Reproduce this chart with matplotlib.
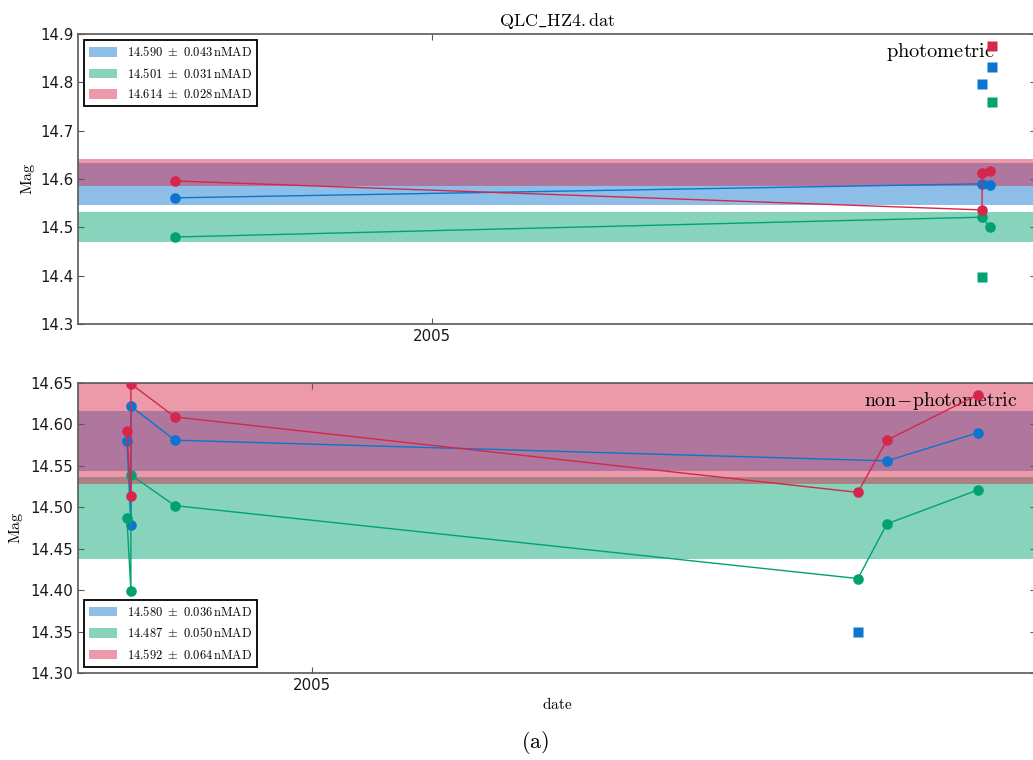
import matplotlib
matplotlib.use("Agg")
import matplotlib.pyplot as plt
from matplotlib.ticker import FixedLocator, FormatStrFormatter

plt.rcParams['mathtext.fontset'] = 'cm'
plt.rcParams['font.family'] = ['DejaVu Sans']

# ---- colours ----
BLUE = '#0b75cf'
GREEN = '#00a271'
RED = '#d7264b'
BAND_ALPHA = 0.47

# ---- top panel (photometric) data ----
top_blue_x = [2004.274, 2006.556, 2006.578]
top_blue_y = [14.561, 14.590, 14.588]
top_green_x = [2004.274, 2006.556, 2006.578]
top_green_y = [14.480, 14.521, 14.501]
top_red_x = [2004.274, 2006.556, 2006.556, 2006.578]
top_red_y = [14.596, 14.536, 14.612, 14.617]
top_blue_sq_x = [2006.556, 2006.584]
top_blue_sq_y = [14.797, 14.832]
top_green_sq_x = [2006.556, 2006.584]
top_green_sq_y = [14.397, 14.759]
top_red_sq_x = [2006.584]
top_red_sq_y = [14.875]
top_means = [14.590, 14.501, 14.614]
top_nmad = [0.043, 0.031, 0.028]

# ---- bottom panel (non-photometric) data ----
bot_blue_x = [2004.209, 2004.226, 2004.226, 2004.414, 2007.456, 2007.845]
bot_blue_y = [14.580, 14.479, 14.622, 14.581, 14.556, 14.590]
bot_green_x = [2004.209, 2004.226, 2004.226, 2004.414, 2007.332, 2007.456, 2007.845]
bot_green_y = [14.487, 14.399, 14.539, 14.502, 14.414, 14.480, 14.521]
bot_red_x = [2004.209, 2004.226, 2004.226, 2004.414, 2007.332, 2007.456, 2007.845]
bot_red_y = [14.592, 14.514, 14.649, 14.609, 14.518, 14.581, 14.636]
bot_blue_sq_x = [2007.332]
bot_blue_sq_y = [14.350]
bot_means = [14.580, 14.487, 14.592]
bot_nmad = [0.036, 0.050, 0.064]

top_yticks = [14.3, 14.4, 14.5, 14.6, 14.7, 14.8, 14.9]
bot_yticks = [14.30, 14.35, 14.40, 14.45, 14.50, 14.55, 14.60, 14.65]
year_ticks = [2005]
year_labels = ['2005']

W, H = 1033, 760
fig = plt.figure(figsize=(W / 100, H / 100), dpi=100)

def axes_px(left, top, right, bottom):
    return fig.add_axes([left / W, 1 - bottom / H, (right - left) / W, (bottom - top) / H])

ax1 = axes_px(78, 34, 1036, 324)
ax2 = axes_px(78, 383, 1036, 673)

colors = [BLUE, GREEN, RED]

def style(ax, yticks, fmt):
    for s in ax.spines.values():
        s.set_color('0.35')
        s.set_linewidth(1.2)
    ax.tick_params(direction='in', length=4, width=0.8, color='0.35',
                   top=True, right=True, labelsize=10.8, labelcolor='0.1')
    ax.yaxis.set_major_locator(FixedLocator(yticks))
    ax.yaxis.set_major_formatter(FormatStrFormatter(fmt))
    ax.set_xticks(year_ticks)
    ax.set_xticklabels(year_labels)

def bands(ax, means, nmads):
    handles = []
    for m, s, c in zip(means, nmads, colors):
        h = ax.axhspan(m - s, m + s, color=c, alpha=BAND_ALPHA, lw=0,
                       label=r'$%.3f\ \pm\ %.3f\,\mathrm{nMAD}$' % (m, s), zorder=1)
        handles.append(h)
    return handles

def series(ax, x, y, c):
    ax.plot(x, y, '-', color=c, lw=1.0, marker='o', ms=6.6, mec=c, mfc=c, zorder=3)

def squares(ax, x, y, c):
    ax.plot(x, y, ls='none', marker='s', ms=7, color=c, mec='none', zorder=3)

# top
h1 = bands(ax1, top_means, top_nmad)
series(ax1, top_blue_x, top_blue_y, BLUE)
series(ax1, top_green_x, top_green_y, GREEN)
series(ax1, top_red_x, top_red_y, RED)
squares(ax1, top_blue_sq_x, top_blue_sq_y, BLUE)
squares(ax1, top_green_sq_x, top_green_sq_y, GREEN)
squares(ax1, top_red_sq_x, top_red_sq_y, RED)
ax1.set_xlim(2004.0, 2004.0 + 2.7 * 958 / 955)
ax1.set_ylim(14.3, 14.9)
style(ax1, top_yticks, '%.1f')
ax1.set_ylabel(r'$\mathrm{Mag}$', fontsize=11.5, labelpad=2)
ax1.set_title(r'$\mathrm{QLC\_HZ4{.}dat}$', fontsize=13, pad=6)
ax1.text(0.957, 0.975, r'$\mathrm{photometric}$', transform=ax1.transAxes,
         ha='right', va='top', fontsize=14.7, zorder=2)
leg1 = ax1.legend(handles=h1, loc='upper left', fontsize=9, fancybox=False,
                  edgecolor='black', framealpha=1, handlelength=2.2,
                  handleheight=0.8, borderaxespad=0.5, labelspacing=0.6)
leg1.get_frame().set_linewidth(1.3)

# bottom
h2 = bands(ax2, bot_means, bot_nmad)
series(ax2, bot_blue_x, bot_blue_y, BLUE)
series(ax2, bot_green_x, bot_green_y, GREEN)
series(ax2, bot_red_x, bot_red_y, RED)
squares(ax2, bot_blue_sq_x, bot_blue_sq_y, BLUE)
ax2.set_xlim(2004.0, 2004.0 + 4.08 * 958 / 955)
ax2.set_ylim(14.30, 14.65)
style(ax2, bot_yticks, '%.2f')
ax2.set_ylabel(r'$\mathrm{Mag}$', fontsize=11.5, labelpad=4)
ax2.set_xlabel(r'$\mathrm{date}$', fontsize=11, labelpad=2)
ax2.text(0.981, 0.975, r'$\mathrm{non\!-\!photometric}$', transform=ax2.transAxes,
         ha='right', va='top', fontsize=14.2, zorder=2)
leg2 = ax2.legend(handles=h2, loc='lower left', fontsize=9, fancybox=False,
                  edgecolor='black', framealpha=1, handlelength=2.2,
                  handleheight=0.8, borderaxespad=0.5, labelspacing=0.6)
leg2.get_frame().set_linewidth(1.3)

fig.text(535 / W, 1 - 743 / H, r'$\mathrm{(a)}$', ha='center', va='center', fontsize=16)

fig.savefig('out.png', dpi=100)
